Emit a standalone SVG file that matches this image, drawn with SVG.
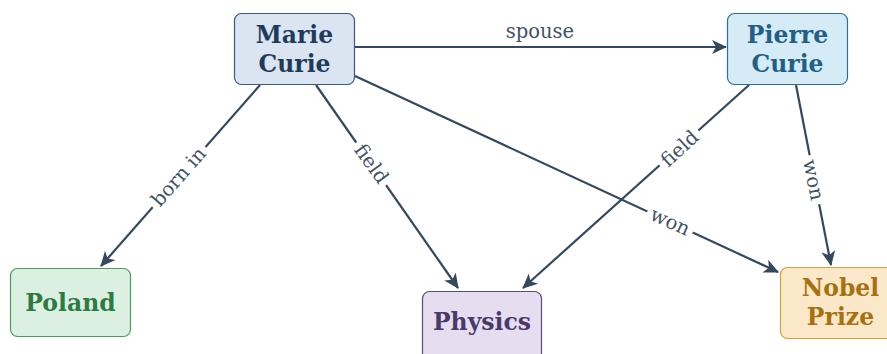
<svg xmlns="http://www.w3.org/2000/svg" width="887" height="354" viewBox="0 0 887 354">
<style>
.node rect{stroke-width:1.2}
.nt{font-family:"DejaVu Serif","Liberation Serif",serif;font-weight:bold;font-size:23.5px;text-anchor:middle}
.edge{stroke:#34495e;stroke-width:2.2;fill:none;marker-end:url(#arr)}
.lbl{font-family:"DejaVu Serif","Liberation Serif",serif;font-size:19.5px;fill:#3e5266;text-anchor:middle}
.lb{fill:#ffffff}
</style>
<defs>
<marker id="arr" viewBox="-16 -9 18 18" refX="0" refY="0" markerWidth="18" markerHeight="18" markerUnits="userSpaceOnUse" orient="auto">
<path d="M1,0 L-14,-7 L-10,0 L-14,7 Z" fill="#34495e"/>
</marker>
</defs>
<rect width="887" height="354" fill="#ffffff"/>
<g id="connectors">
<line class="edge" x1="355" y1="47" x2="726" y2="47"/>
<line class="edge" x1="260" y1="85" x2="101" y2="266"/>
<line class="edge" x1="316" y1="85" x2="458" y2="288"/>
<line class="edge" x1="749" y1="85" x2="523" y2="288"/>
<line class="edge" x1="355" y1="76" x2="778" y2="272"/>
<line class="edge" x1="796" y1="85" x2="831" y2="265"/>
<text class="lbl" x="540" y="38">spouse</text>
<g transform="translate(179,177) rotate(-48.6)"><rect class="lb" x="-40" y="-11" width="80" height="22"/><text class="lbl" x="0" y="6">born in</text></g>
<g transform="translate(371,164) rotate(54)"><rect class="lb" x="-26" y="-11" width="52" height="22"/><text class="lbl" x="0" y="6">field</text></g>
<g transform="translate(680,149) rotate(-42.6)"><rect class="lb" x="-26" y="-11" width="52" height="22"/><text class="lbl" x="0" y="6">field</text></g>
<g transform="translate(670,222) rotate(24.5)"><rect class="lb" x="-25" y="-11" width="50" height="22"/><text class="lbl" x="0" y="6">won</text></g>
<g transform="translate(813,180) rotate(78.7)"><rect class="lb" x="-25" y="-11" width="50" height="22"/><text class="lbl" x="0" y="6">won</text></g>
</g>
<g id="marie" class="node"><rect x="234.5" y="13.5" width="120" height="71" rx="7" fill="#dae5f1" stroke="#3b5a7c"/><text class="nt" fill="#1f3b5c" x="294.5" y="43">Marie</text><text class="nt" fill="#1f3b5c" x="294.5" y="72">Curie</text></g>
<g id="pierre" class="node"><rect x="727.5" y="13.5" width="120" height="71" rx="7" fill="#d5ecf6" stroke="#2f6f96"/><text class="nt" fill="#225f88" x="787.5" y="43">Pierre</text><text class="nt" fill="#225f88" x="787.5" y="72">Curie</text></g>
<g id="poland" class="node"><rect x="10.5" y="268.5" width="120" height="68" rx="7" fill="#dcf0e2" stroke="#4e9a5f"/><text class="nt" fill="#2e7a43" x="70.5" y="311">Poland</text></g>
<g id="physics" class="node"><rect x="422.5" y="291.5" width="119" height="70" rx="7" fill="#e6ddf0" stroke="#5c4b7d"/><text class="nt" fill="#4a3a6b" x="482" y="330">Physics</text></g>
<g id="nobel" class="node"><rect x="780.5" y="267.5" width="120" height="71" rx="7" fill="#fbe8c8" stroke="#d5a03e"/><text class="nt" fill="#a8700f" x="840.5" y="296">Nobel</text><text class="nt" fill="#a8700f" x="840.5" y="325">Prize</text></g>
</svg>
